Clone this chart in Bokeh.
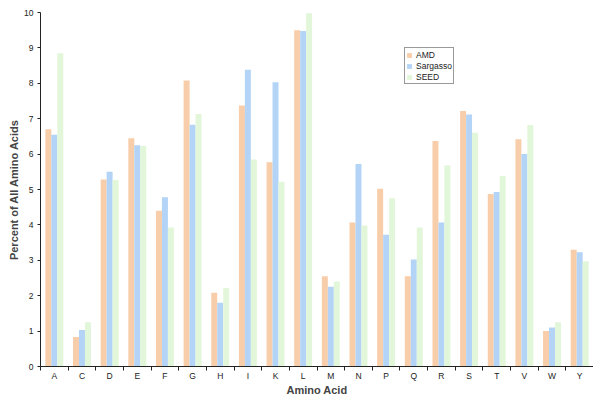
from bokeh.plotting import figure
from bokeh.models import FixedTicker, Legend, LegendItem, Range1d, ColumnDataSource
from bokeh.embed import file_html
from bokeh.resources import INLINE

amino = ["A", "C", "D", "E", "F", "G", "H", "I", "K", "L",
         "M", "N", "P", "Q", "R", "S", "T", "V", "W", "Y"]
amd = [6.70, 0.83, 5.28, 6.45, 4.40, 8.08, 2.08, 7.37, 5.77, 9.50,
       2.55, 4.07, 5.02, 2.55, 6.37, 7.22, 4.87, 6.42, 1.00, 3.30]
sargasso = [6.55, 1.03, 5.50, 6.25, 4.78, 6.83, 1.80, 8.38, 8.03, 9.48,
            2.25, 5.72, 3.72, 3.02, 4.07, 7.12, 4.93, 6.00, 1.10, 3.23]
seed = [8.85, 1.25, 5.27, 6.23, 3.93, 7.13, 2.22, 5.85, 5.22, 9.98,
        2.40, 3.98, 4.75, 3.93, 5.68, 6.60, 5.38, 6.82, 1.25, 2.97]
series_names = ["AMD", "Sargasso", "SEED"]
colors = ["#F8CDA9", "#B3D4F6", "#E2F6D9"]

n = len(amino)
centers = [i + 0.5 for i in range(n)]
bar_w = 0.216

p = figure(frame_width=553, frame_height=354, output_backend="svg", toolbar_location=None,
           x_range=Range1d(0, n), y_range=Range1d(0, 10),
           min_border_left=40, min_border_right=0, min_border_top=12, min_border_bottom=31)
p.outline_line_color = None
p.xgrid.visible = False
p.ygrid.visible = False
p.background_fill_color = "white"

renderers = []
for k, (vals, col) in enumerate(zip([amd, sargasso, seed], colors)):
    src = ColumnDataSource(dict(x=[c + (k - 1) * bar_w for c in centers], top=vals))
    r = p.vbar(x="x", top="top", width=bar_w, bottom=0, source=src,
               fill_color=col, line_color=None)
    renderers.append(r)

font = "Liberation Sans"
# x axis
p.xaxis.ticker = FixedTicker(ticks=centers, minor_ticks=list(range(n + 1)))
p.xaxis.major_label_overrides = {c: a for c, a in zip(centers, amino)}
p.xaxis.major_tick_line_color = None
p.xaxis.major_tick_out = 0
p.xaxis.major_tick_in = 0
p.xaxis.minor_tick_line_color = "#222222"
p.xaxis.minor_tick_out = 4
p.xaxis.minor_tick_in = 0
p.xaxis.major_label_text_font = font
p.xaxis.major_label_text_font_size = "8.5px"
p.xaxis.major_label_text_color = "#222222"
p.xaxis.major_label_standoff = 0
p.xaxis.axis_label = "Amino Acid"
p.xaxis.axis_label_text_font = font
p.xaxis.axis_label_text_font_style = "bold"
p.xaxis.axis_label_text_font_size = "11px"
p.xaxis.axis_label_standoff = 0
p.xaxis.axis_line_color = "#222222"

# y axis
p.yaxis.ticker = FixedTicker(ticks=list(range(0, 11)))
p.yaxis.minor_tick_line_color = None
p.yaxis.major_tick_out = 3
p.yaxis.major_tick_in = 0
p.yaxis.major_tick_line_color = "#222222"
p.yaxis.major_label_text_font = font
p.yaxis.major_label_text_font_size = "8.5px"
p.yaxis.major_label_text_color = "#222222"
p.yaxis.major_label_standoff = 4
p.yaxis.axis_label = "Percent of All Amino Acids"
p.yaxis.axis_label_text_font = font
p.yaxis.axis_label_text_font_style = "bold"
p.yaxis.axis_label_text_font_size = "11px"
p.yaxis.axis_label_standoff = 1
p.yaxis.axis_line_color = "#222222"

legend = Legend(items=[LegendItem(label=nm, renderers=[r]) for nm, r in zip(series_names, renderers)],
                location=(364, 282))
legend.label_text_font = font
legend.label_text_font_size = "8.5px"
legend.label_text_color = "#222222"
legend.glyph_width = 6
legend.glyph_height = 6
legend.label_height = 11
legend.label_width = 34
legend.label_standoff = 4
legend.spacing = 0
legend.padding = 1
legend.margin = 0
legend.border_line_color = "#333333"
legend.border_line_width = 1
legend.background_fill_alpha = 1
p.add_layout(legend)

open("out.html", "w").write(file_html(p, INLINE))
